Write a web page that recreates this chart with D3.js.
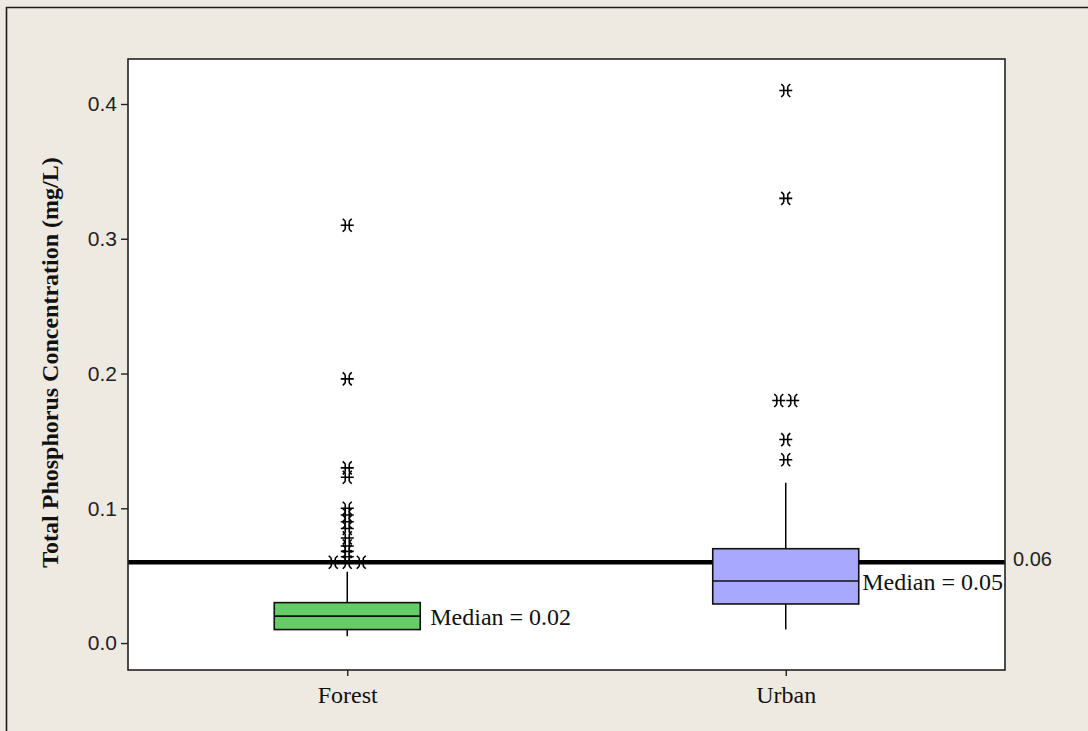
<!DOCTYPE html>
<html>
<head>
<meta charset="utf-8">
<script src="https://cdn.jsdelivr.net/npm/d3@7"></script>
<style>
  html, body { margin: 0; padding: 0; background: #EEEAE1; }
  svg { display: block; }
</style>
</head>
<body>
<svg id="chart" width="1088" height="731"></svg>
<script>
// Total phosphorus by land use: box summaries
const categories   = ["Forest", "Urban"];
const whiskerLow   = [0.005, 0.010];
const quartile1    = [0.010, 0.029];
const medians      = [0.020, 0.046];
const quartile3    = [0.030, 0.070];
const whiskerHigh  = [0.053, 0.119];
const boxColors    = ["#66CC66", "#A8A8FF"];

// Outlying observations for each group
const forestOutliers = [0.31, 0.196, 0.13, 0.123, 0.100, 0.095, 0.090, 0.085,
                        0.078, 0.072, 0.068, 0.064, 0.06, 0.06, 0.06];
const urbanOutliers  = [0.41, 0.33, 0.18, 0.18, 0.151, 0.136];

// Reference level and axis ticks
const referenceLevel = 0.06;
const yTicks = [0.0, 0.1, 0.2, 0.3, 0.4];
const yTitle = "Total Phosphorus Concentration (mg/L)";

const W = 1088, H = 731;
const plot = { left: 128, right: 1005, top: 59, bottom: 670 };

const svg = d3.select("#chart");

// window background and outer frame
svg.append("rect").attr("width", W).attr("height", H).attr("fill", "#EEEAE1");
svg.append("path")
  .attr("d", `M6.5,${H + 5}V7.5H${W + 5}`)
  .attr("fill", "none").attr("stroke", "#1c1c1c").attr("stroke-width", 1.6);

const x = d3.scalePoint().domain(categories).range([plot.left, plot.right]).padding(0.5);
const y = d3.scaleLinear().domain([-0.02, 0.4334]).range([plot.bottom, plot.top]);

// plot area
svg.append("rect")
  .attr("x", plot.left).attr("y", plot.top)
  .attr("width", plot.right - plot.left).attr("height", plot.bottom - plot.top)
  .attr("fill", "#fff");

const boxHalf = 73;
const starPath = "M-6.5,0H6.5M-2,-4V4M2,-4V4M-2,-4L-4.5,-6.5M2,-4L4.5,-6.5M-2,4L-4.5,6.5M2,4L4.5,6.5";
const fmt2 = d3.format(".2f");

const groups = categories.map((c, i) => ({
  name: c, lo: whiskerLow[i], q1: quartile1[i], med: medians[i], q3: quartile3[i],
  hi: whiskerHigh[i], color: boxColors[i],
  outliers: i === 0 ? forestOutliers : urbanOutliers
}));

const g = svg.append("g");

// reference line
g.append("line")
  .attr("x1", plot.left).attr("x2", plot.right)
  .attr("y1", y(referenceLevel)).attr("y2", y(referenceLevel))
  .attr("stroke", "#000").attr("stroke-width", 4.5);

groups.forEach(d => {
  const cx = x(d.name);
  // whiskers
  g.append("line").attr("x1", cx).attr("x2", cx)
    .attr("y1", y(d.q3)).attr("y2", y(d.hi))
    .attr("stroke", "#000").attr("stroke-width", 1.5);
  g.append("line").attr("x1", cx).attr("x2", cx)
    .attr("y1", y(d.q1)).attr("y2", y(d.lo))
    .attr("stroke", "#000").attr("stroke-width", 1.5);
  // box
  g.append("rect")
    .attr("x", cx - boxHalf).attr("width", boxHalf * 2)
    .attr("y", y(d.q3)).attr("height", y(d.q1) - y(d.q3))
    .attr("fill", d.color).attr("stroke", "#111").attr("stroke-width", 1.6);
  g.append("line")
    .attr("x1", cx - boxHalf).attr("x2", cx + boxHalf)
    .attr("y1", y(d.med)).attr("y2", y(d.med))
    .attr("stroke", "#111").attr("stroke-width", 1.6);

  // outliers: tied values sit side by side
  const counts = d3.rollup(d.outliers, v => v.length, v => v);
  const seen = new Map();
  d.outliers.forEach(v => {
    const n = counts.get(v);
    const k = seen.get(v) || 0;
    seen.set(v, k + 1);
    const dx = (k - (n - 1) / 2) * 14;
    g.append("path")
      .attr("d", starPath)
      .attr("transform", `translate(${cx + dx},${y(v)})`)
      .attr("fill", "none").attr("stroke", "#000").attr("stroke-width", 1.6);
  });

  // median label
  const lab = g.append("text")
    .attr("y", y(d.med)).attr("dy", "0.36em")
    .attr("font-family", "'Liberation Serif', 'Times New Roman', serif")
    .attr("font-size", 24).attr("fill", "#111")
    .text(`Median = ${fmt2(d.med)}`);
  const tw = lab.node().getComputedTextLength();
  lab.attr("x", Math.min(cx + boxHalf + 10, plot.right - tw - 2));
});

// plot frame
svg.append("rect")
  .attr("x", plot.left).attr("y", plot.top)
  .attr("width", plot.right - plot.left).attr("height", plot.bottom - plot.top)
  .attr("fill", "none").attr("stroke", "#222").attr("stroke-width", 1.6);

// y axis
const yAxis = svg.append("g")
  .attr("transform", `translate(${plot.left},0)`)
  .call(d3.axisLeft(y).tickValues(yTicks).tickFormat(d3.format(".1f")).tickSize(7).tickPadding(4));
yAxis.select(".domain").remove();
yAxis.selectAll(".tick line").attr("stroke", "#222").attr("stroke-width", 1.4);
yAxis.selectAll(".tick text")
  .attr("font-family", "'Liberation Sans', Arial, sans-serif")
  .attr("font-size", 21).attr("fill", "#222");

// x axis
const xAxis = svg.append("g")
  .attr("transform", `translate(0,${plot.bottom})`)
  .call(d3.axisBottom(x).tickSize(6).tickPadding(10));
xAxis.select(".domain").remove();
xAxis.selectAll(".tick line").attr("stroke", "#222").attr("stroke-width", 1.4);
xAxis.selectAll(".tick text")
  .attr("font-family", "'Liberation Serif', 'Times New Roman', serif")
  .attr("font-size", 24).attr("fill", "#111");

// reference value label
svg.append("text")
  .attr("x", plot.right + 8).attr("y", y(referenceLevel)).attr("dy", "0.2em")
  .attr("font-family", "'Liberation Sans', Arial, sans-serif")
  .attr("font-size", 20).attr("fill", "#222")
  .text(fmt2(referenceLevel));

// y axis title
svg.append("text")
  .attr("transform", `translate(58,${(plot.top + plot.bottom) / 2 - 2}) rotate(-90)`)
  .attr("text-anchor", "middle")
  .attr("font-family", "'Liberation Serif', 'Times New Roman', serif")
  .attr("font-weight", "bold").attr("font-size", 24).attr("fill", "#111")
  .text(yTitle);
</script>
</body>
</html>
